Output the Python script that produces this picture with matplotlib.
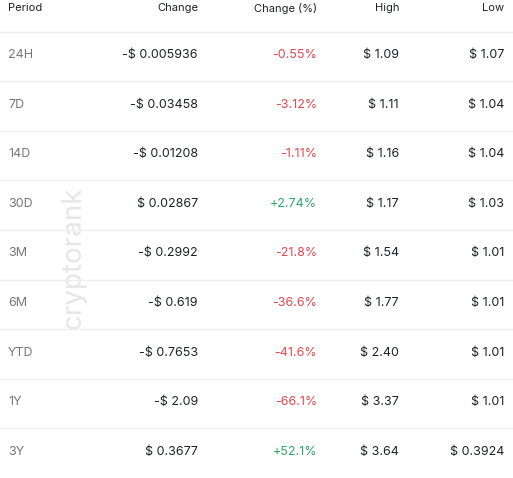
import matplotlib
matplotlib.use("Agg")
import matplotlib.pyplot as plt

periods = ["24H", "7D", "14D", "30D", "3M", "6M", "YTD", "1Y", "3Y"]
changes = ["-$ 0.005936", "-$ 0.03458", "-$ 0.01208", "$ 0.02867", "-$ 0.2992", "-$ 0.619", "-$ 0.7653", "-$ 2.09", "$ 0.3677"]
change_pct = [-0.55, -3.12, -1.11, 2.74, -21.8, -36.6, -41.6, -66.1, 52.1]
pct_labels = ["-0.55%", "-3.12%", "-1.11%", "+2.74%", "-21.8%", "-36.6%", "-41.6%", "-66.1%", "+52.1%"]
highs = ["$ 1.09", "$ 1.11", "$ 1.16", "$ 1.17", "$ 1.54", "$ 1.77", "$ 2.40", "$ 3.37", "$ 3.64"]
lows = ["$ 1.07", "$ 1.04", "$ 1.04", "$ 1.03", "$ 1.01", "$ 1.01", "$ 1.01", "$ 1.01", "$ 0.3924"]
headers = ["Period", "Change", "Change (%)", "High", "Low"]

W, H = 513, 478
fig = plt.figure(figsize=(W/100, H/100), dpi=100)
ax = fig.add_axes([0, 0, 1, 1])
ax.set_xlim(0, W); ax.set_ylim(H, 0); ax.axis("off")
plt.rcParams['font.family'] = ['Inter', 'DejaVu Sans']

fs = 9
dark = "#1f2328"
hx = [8, 198, 317, 399, 504]
has = ["left", "right", "right", "right", "right"]
for x, h, a in zip(hx, headers, has):
    ax.text(x, 8, h, ha=a, va="center", fontsize=8, color=dark)

row_h = 49.6
y0 = 55
for i, p in enumerate(periods):
    y = y0 + i * row_h
    ax.plot([0, W], [y - 23.5, y - 23.5], color="#eeeeee", lw=1)
    ax.text(8, y, p, ha="left", va="center", fontsize=fs, color="#777777")
    ax.text(198, y, changes[i], ha="right", va="center", fontsize=fs, color=dark)
    col = "#e5484d" if change_pct[i] < 0 else "#30a46c"
    ax.text(317, y, pct_labels[i], ha="right", va="center", fontsize=fs, color=col)
    ax.text(399, y, highs[i], ha="right", va="center", fontsize=fs, color=dark)
    ax.text(504, y, lows[i], ha="right", va="center", fontsize=fs, color=dark)

ax.text(74, 258, "cryptorank", rotation=90, ha="center", va="center",
        fontsize=20, color="#e6e6e6", zorder=0)

fig.savefig("out.png", dpi=100)
